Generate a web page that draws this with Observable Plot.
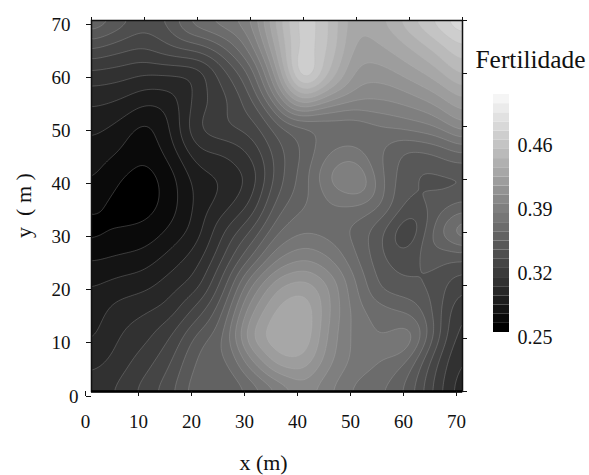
<!DOCTYPE html>
<html><head><meta charset="utf-8">
<script src="https://cdn.jsdelivr.net/npm/d3@7"></script>
<script src="https://cdn.jsdelivr.net/npm/@observablehq/plot@0.6"></script>
<style>html,body{margin:0;background:#fff}#c{position:relative;width:589px;height:475px;overflow:hidden}#c svg{position:absolute;left:0;top:0;background:transparent}</style>
</head><body><div id="c"></div>
<script>
// Fertility every 5 m, x = 0..70; one row per y
const xs=[0,5,10,15,20,25,30,35,40,45,50,55,60,65,70];
const ys=[70,65,60,55,50,45,40,35,30,25,20,15,10,5,0];
const y70=[.365,.350,.335,.345,.372,.380,.390,.435,.470,.450,.420,.430,.450,.465,.485];
const y65=[.333,.325,.320,.330,.335,.350,.375,.425,.470,.450,.415,.420,.430,.445,.460];
const y60=[.307,.305,.300,.300,.300,.325,.350,.405,.485,.440,.405,.405,.415,.425,.445];
const y55=[.293,.290,.282,.285,.305,.315,.335,.380,.425,.400,.390,.390,.395,.405,.420];
const y50=[.283,.278,.265,.280,.313,.320,.325,.345,.355,.360,.360,.370,.375,.380,.400];
const y45=[.277,.270,.261,.274,.298,.300,.310,.335,.350,.370,.375,.360,.345,.350,.360];
const y40=[.272,.260,.253,.265,.285,.290,.300,.335,.355,.385,.400,.360,.340,.335,.335];
const y35=[.262,.255,.253,.265,.283,.295,.310,.345,.360,.370,.370,.360,.335,.345,.355];
const y30=[.255,.260,.263,.272,.285,.310,.330,.360,.370,.365,.355,.340,.312,.360,.390];
const y25=[.269,.272,.274,.285,.295,.320,.350,.380,.390,.380,.360,.340,.335,.345,.340];
const y20=[.279,.284,.287,.295,.305,.335,.380,.410,.418,.400,.370,.345,.340,.335,.320];
const y15=[.284,.295,.299,.305,.325,.350,.400,.425,.432,.400,.375,.365,.360,.335,.305];
const y10=[.287,.300,.307,.320,.345,.360,.415,.432,.432,.395,.375,.370,.385,.335,.300];
const y05=[.297,.305,.316,.330,.355,.355,.385,.415,.418,.390,.375,.370,.355,.320,.295];
const y00=[.305,.312,.325,.338,.360,.350,.360,.376,.395,.380,.365,.360,.345,.315,.290];
const rows=[y70,y65,y60,y55,y50,y45,y40,y35,y30,y25,y20,y15,y10,y05,y00];
const samples=rows.flatMap((r,j)=>r.map((v,i)=>({x:xs[i],y:ys[j],v})));
const levels=[.25,.26,.27,.28,.29,.30,.31,.32,.33,.34,.35,.36,.37,.38,.39,.40,.41,.42,.43,.44,.45,.46,.47,.48,.49,.50];
const axisTicks=[10,20,30,40,50,60,70];
const barTicks=[.25,.32,.39,.46];
const colour={type:"linear",domain:[.25,.50],range:["#000000","#f5f5f5"]};

const main=Plot.plot({
  width:589,height:475,marginLeft:91,marginRight:127,marginTop:20,marginBottom:84,
  style:{fontFamily:"'Liberation Serif',serif",fontSize:"18px",color:"#111",background:"transparent"},
  x:{domain:[0,70]},y:{domain:[0,70]},color:colour,
  marks:[
    Plot.contour(samples,{x:"x",y:"y",value:"v",fill:"value",interpolate:"barycentric",pixelSize:2,blur:4,stroke:"#b5b5b5",strokeWidth:.5,strokeOpacity:.55,thresholds:levels,clip:true}),
    Plot.frame({stroke:"#111",strokeWidth:1.5}),
    Plot.ruleY([0],{stroke:"#000",strokeWidth:2.5}),
    Plot.axisX([0,...axisTicks],{anchor:"bottom",tickSize:5,tickPadding:18,dx:-6,label:null,tickFormat:"d",fontSize:19}),
    Plot.axisX([0,...axisTicks],{anchor:"top",tickSize:4,text:null,label:null}),
    Plot.axisY(axisTicks,{anchor:"left",tickSize:5,tickPadding:16,dy:4,label:null,tickFormat:"d",fontSize:19}),
    Plot.axisY([0],{anchor:"left",tickSize:5,tickPadding:8,dy:5,label:null,tickFormat:"d",fontSize:19}),
    Plot.axisY([0,...axisTicks],{anchor:"right",tickSize:4,text:null,label:null})
  ]
});
document.getElementById("c").appendChild(main);

const bar=Plot.plot({
  width:589,height:475,marginLeft:493,marginRight:80,marginTop:94,marginBottom:143,
  style:{fontFamily:"'Liberation Serif',serif",fontSize:"20px",color:"#111",background:"transparent"},
  x:{domain:[0,1],axis:null},y:{domain:[.25,.51],axis:null},color:colour,
  marks:[
    Plot.rect(levels,{x1:0,x2:1,y1:d=>d,y2:d=>d+.01,fill:d=>d}),
    Plot.text(barTicks,{y:d=>d,frameAnchor:"left",dx:24,dy:5,textAnchor:"start",text:d=>d.toFixed(2),fill:"#111"}),
    Plot.text(["Fertilidade"],{frameAnchor:"left",dx:-18,dy:-154,textAnchor:"start",fontSize:25.4,fill:"#111"}),
    Plot.text(["x (m)"],{frameAnchor:"left",dx:-230,dy:249,textAnchor:"middle",fontSize:22,fill:"#111"}),
    Plot.text(["y\u00a0 ( m )"],{frameAnchor:"left",dx:-470,dy:-8,rotate:-90,textAnchor:"middle",fontSize:22,fill:"#111"})
  ]
});
document.getElementById("c").appendChild(bar);
</script></body></html>
